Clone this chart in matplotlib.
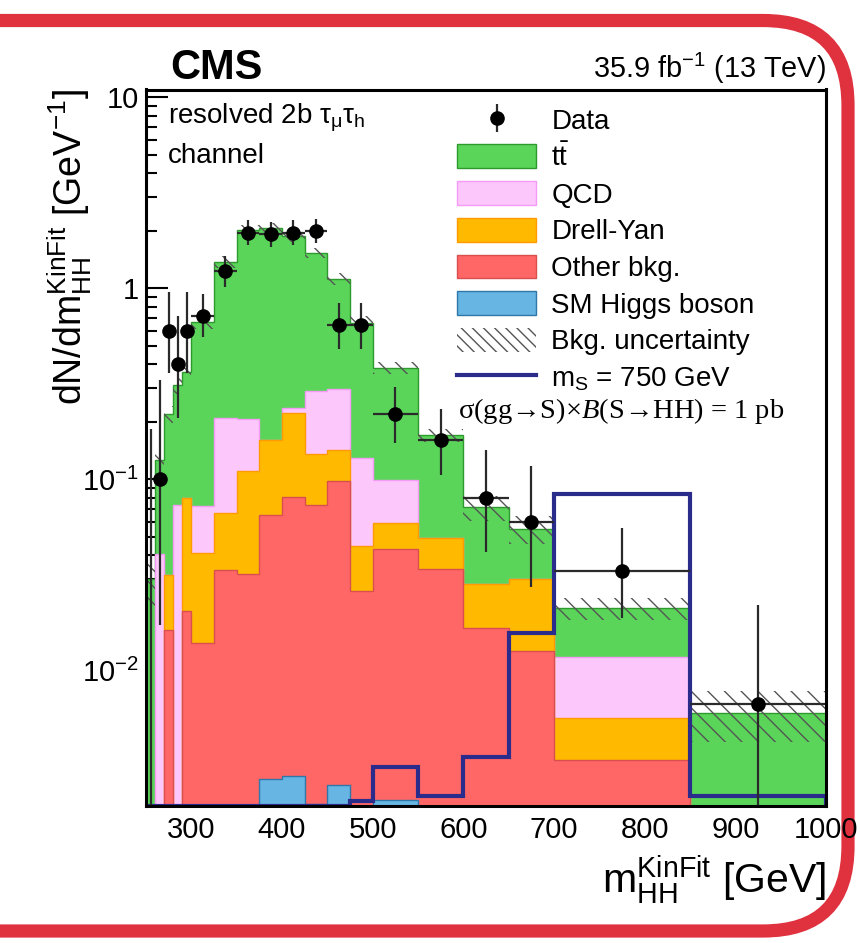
import numpy as np
import matplotlib
matplotlib.use("Agg")
import matplotlib.pyplot as plt
from matplotlib.patches import Patch, FancyBboxPatch
from matplotlib.lines import Line2D
from matplotlib.ticker import FixedLocator, LogLocator, NullFormatter, MultipleLocator

plt.rcParams["font.family"] = ["Liberation Sans", "DejaVu Sans"]
plt.rcParams["mathtext.fontset"] = "custom"
plt.rcParams["mathtext.rm"] = "Liberation Sans"
plt.rcParams["mathtext.it"] = "Liberation Serif:italic"
plt.rcParams["mathtext.default"] = "regular"
plt.rcParams["hatch.linewidth"] = 1.0

# m_HH^KinFit bin edges [GeV]
edges = [250, 260, 270, 280, 290, 300, 325, 350, 375, 400, 425, 450, 475, 500,
         550, 600, 650, 700, 850, 1000]

# background expectation, dN/dm [1/GeV], stack order bottom -> top
higgs = [0, 0, 0, 0, 0, 0, 0, 0.0019, 0.0027, 0.0028, 0.0020, 0.0025, 0.0019,
         0.0021, 0, 0, 0, 0, 0]
other = [0, 0, 0.0163, 0, 0.0204, 0.0139, 0.0335, 0.0302, 0.0623, 0.0782,
         0.0713, 0.0955, 0.0243, 0.0413, 0.0338, 0.0166, 0.0126, 0.0034, 0]
dy = [0, 0, 0.0151, 0, 0.0596, 0.0273, 0.0329, 0.0779, 0.096, 0.141, 0.0627,
      0.045, 0.0184, 0.0156, 0.0153, 0.0117, 0.0174, 0.0022, 0]
qcd = [0, 0.0408, 0, 0.0733, 0, 0.0315, 0.1426, 0.098, 0, 0.014, 0.155,
       0.155, 0.0844, 0.040, 0, 0, 0, 0.0062, 0]
ttbar = [0.030, 0.085, 0.189, 0.237, 0.286, 0.597, 1.171, 1.822, 1.919, 1.634,
         1.239, 0.822, 0.531, 0.285, 0.121, 0.043, 0.0253, 0.0093, 0.006]
# relative bkg. uncertainty per bin
bkg_unc = [0.30, 0.10, 0.10, 0.10, 0.08, 0.08, 0.07, 0.06, 0.06, 0.06, 0.06,
           0.07, 0.08, 0.07, 0.08, 0.15, 0.17, 0.13, 0.30]

# signal m_S = 750 GeV, 1 pb
signal = [0, 0, 0, 0, 0, 0, 0, 0, 0, 0, 0, 0, 0.00206, 0.00311, 0.0022,
          0.00352, 0.0157, 0.0838, 0.0022]

# data (dN/dm) with lower / upper ends of the error bars
data_y = [0, 0.1, 0.6, 0.4, 0.6, 0.72, 1.24, 1.96, 1.92, 1.96, 2.0, 0.64,
          0.64, 0.22, 0.16, 0.08, 0.06, 0.0333, 0.00667]
data_lo = [0, 0.0173, 0.362, 0.209, 0.362, 0.556, 1.02, 1.68, 1.64, 1.68,
           1.72, 0.484, 0.484, 0.156, 0.105, 0.0418, 0.0274, 0.0189, 0.00115]
data_hi = [0.184, 0.33, 0.958, 0.716, 0.958, 0.932, 1.48, 2.28, 2.24, 2.28,
           2.32, 0.84, 0.84, 0.306, 0.235, 0.143, 0.118, 0.0559, 0.022]

YMIN, YMAX = 0.00195, 11.0
FLOOR = 1e-5

edges = np.array(edges, dtype=float)
centers = 0.5 * (edges[:-1] + edges[1:])

comps = [
    ("SM Higgs boson", higgs, "#66b5e3", "#2f77a8"),
    ("Other bkg.", other, "#ff6666", "#d94f4f"),
    ("Drell-Yan", dy, "#ffba00", "#ff9a00"),
    ("QCD", qcd, "#fcc8fc", "#f59af5"),
    (r"t$\bar{t}$", ttbar, "#5ad55a", "#2e9a2e"),
]

fig = plt.figure(figsize=(8.6, 9.43), dpi=100)
ax = fig.add_axes([146 / 860, 137 / 943, 680 / 860, 716.5 / 943])
ax.set_yscale("log")

# stacked backgrounds, drawn from the top of the stack downwards
cum = np.cumsum([np.array(c[1], dtype=float) for c in comps], axis=0)
for i in range(len(comps) - 1, -1, -1):
    name, vals, fc, ec = comps[i]
    ax.stairs(np.maximum(cum[i], FLOOR), edges, baseline=FLOOR, fill=True,
              facecolor=fc, edgecolor=ec, linewidth=1.0, zorder=2)

total = cum[-1]
unc = np.array(bkg_unc)
ax.stairs(total * (1 + unc), edges, baseline=total * (1 - unc), fill=True,
          facecolor="none", edgecolor="#555555", linewidth=0, hatch="\\\\",
          zorder=3)

# signal
sig_draw = np.maximum(np.array(signal), YMIN)
ax.stairs(sig_draw, edges, color="#2b2b8c", linewidth=3.0, zorder=4)

# data
data_y = np.array(data_y)
data_lo = np.array(data_lo)
data_hi = np.array(data_hi)
m = data_y > 0
ax.errorbar(centers[m], data_y[m], yerr=[data_y[m] - data_lo[m], data_hi[m] - data_y[m]],
            fmt="o", color="black", ecolor="#2a2a2a", elinewidth=1.6,
            markersize=9.5, capsize=0, zorder=6, label="Data")
ax.hlines(data_y[m], edges[:-1][m], edges[1:][m], color="#2a2a2a", linewidth=1.6, zorder=5)
ax.vlines(centers[~m], YMIN, data_hi[~m], color="#2a2a2a", linewidth=1.6, zorder=5)

ax.set_xlim(250, 1000)
ax.set_ylim(YMIN, YMAX)

ax.xaxis.set_major_locator(FixedLocator([300, 400, 500, 600, 700, 800, 900, 1000]))
ax.xaxis.set_minor_locator(MultipleLocator(20))
ax.yaxis.set_major_locator(FixedLocator([0.01, 0.1, 1, 10]))
ax.set_yticklabels(["10$^{-2}$", "10$^{-1}$", "1", "10"])
ax.yaxis.set_minor_locator(LogLocator(base=10, subs=np.arange(2, 10)))
ax.yaxis.set_minor_formatter(NullFormatter())
ax.tick_params(axis="both", which="both", direction="in", width=1.5,
               labelsize=21, top=False, right=False)
ax.tick_params(axis="y", which="major", length=16, pad=5)
ax.tick_params(axis="y", which="minor", length=8)
ax.tick_params(axis="x", which="major", length=12, pad=7)
ax.tick_params(axis="x", which="minor", length=5)
for sp in ax.spines.values():
    sp.set_linewidth(2.2)
    sp.set_zorder(10)

# legend
handles = [ax.containers[0]]
labels = ["Data"]
for name, vals, fc, ec in comps[::-1]:
    handles.append(Patch(facecolor=fc, edgecolor=ec, linewidth=1.0))
    labels.append(name)
handles.append(Patch(facecolor="none", edgecolor="#555555", linewidth=0, hatch="\\\\\\"))
labels.append("Bkg. uncertainty")
handles.append(Line2D([], [], color="#2b2b8c", linewidth=3.0))
labels.append("m$_S$ = 750 GeV")
leg = ax.legend(handles, labels, loc="upper left",
                bbox_to_anchor=(457 / 860, 1 - 107 / 943), bbox_transform=fig.transFigure,
                frameon=False, fontsize=20, handlelength=2.85, handleheight=0.95,
                handletextpad=0.55, labelspacing=0.33, borderpad=0, borderaxespad=0)
leg.set_zorder(12)

fig.text(458 / 860, 1 - 418 / 943,
         "\u03c3(gg\u2192S)\u00d7$\\mathit{B}$(S\u2192HH) = 1 pb",
         family=["Liberation Serif", "DejaVu Serif"], fontsize=20.5, va="baseline")

fig.text(168 / 860, 1 - 124 / 943, "resolved 2b \u03c4$_{\u03bc}$\u03c4$_{h}$",
         fontsize=20, va="baseline")
fig.text(168 / 860, 1 - 163 / 943, "channel", fontsize=20, va="baseline")

fig.text(170 / 860, 1 - 79 / 943, "CMS", fontsize=30, weight="bold", va="baseline")
fig.text(826 / 860, 1 - 78 / 943, "35.9 fb$^{-1}$ (13 TeV)", fontsize=20.8,
         ha="right", va="baseline")

fig.text(70 / 860, 1 - 89 / 943, r"dN/dm$_{HH}^{KinFit}$ [GeV$^{-1}$]", fontsize=27,
         rotation=90, ha="center", va="top")
fig.text(826 / 860, 1 - 893 / 943, r"m$_{HH}^{KinFit}$ [GeV]", fontsize=29.5,
         ha="right", va="baseline")

# red rounded slide frame
frame = FancyBboxPatch((-1.0, 0.12), 9.48, 9.105, boxstyle="round,pad=0,rounding_size=0.85",
                       transform=fig.dpi_scale_trans, fill=False, edgecolor="#e0313f",
                       linewidth=9.5, clip_on=False, zorder=-1)
fig.add_artist(frame)

fig.savefig("out.png", dpi=100)
